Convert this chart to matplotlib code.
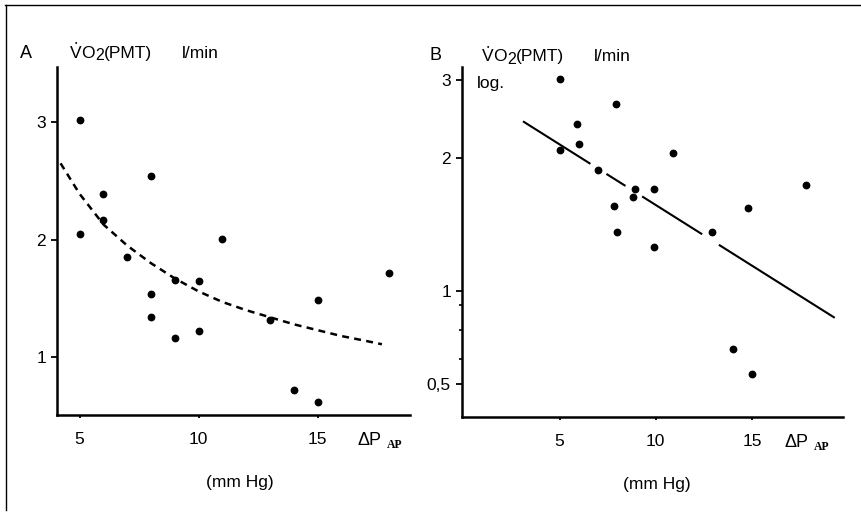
import numpy as np
import matplotlib
matplotlib.use('Agg')
import matplotlib.pyplot as plt
from matplotlib.lines import Line2D

plt.rcParams['font.family'] = ['Liberation Sans', 'DejaVu Sans']
plt.rcParams['lines.scale_dashes'] = False

# ---------------- data ----------------
# Panel A (linear y)
a_x = [5, 5, 6, 6, 7, 8, 8, 8, 9, 9, 10, 10, 11, 13, 14, 15, 15, 18]
a_y = [3.02, 2.05, 2.39, 2.17, 1.85, 2.54, 1.54, 1.34, 1.66, 1.16,
       1.65, 1.22, 2.01, 1.32, 0.72, 1.49, 0.62, 1.72]
# dashed fitted curve in A
fit_x = [4.2, 5, 6, 7, 8, 9, 10, 11, 12, 13, 14, 15, 16, 17, 17.7]
fit_y = [2.65, 2.39, 2.13, 1.95, 1.80, 1.67, 1.56, 1.47, 1.40, 1.34,
         1.28, 1.23, 1.18, 1.14, 1.11]

# Panel B (log y)
b_x = [5, 5, 5.9, 6, 7, 7.85, 7.95, 8, 8.8, 8.9, 9.9, 9.9, 10.9, 12.9,
       14, 14.8, 15, 17.8]
b_y = [3.01, 2.08, 2.39, 2.15, 1.88, 1.56, 2.65, 1.36, 1.63, 1.70, 1.70,
       1.26, 2.05, 1.36, 0.65, 1.54, 0.54, 1.74]
reg_x = [3.1, 19.3]
reg_y = [2.42, 0.82]

x_ticks = [5, 10, 15]
a_yticks = [1, 2, 3]
b_yticks = [0.5, 1, 2, 3]
b_yticklabels = ['0,5', '1', '2', '3']
b_yminor = [0.6, 0.75, 0.9]

# ---------------- figure ----------------
W, H = 862, 512
fig = plt.figure(figsize=(W / 100, H / 100), dpi=100)
renderer = fig.canvas.get_renderer()


def fx(px):
    return px / W


def fy(py):
    return 1 - py / H


# frame lines of the scanned page
fig.add_artist(Line2D([fx(5), 1], [fy(5), fy(5)], transform=fig.transFigure,
                      color='black', lw=1.0))
fig.add_artist(Line2D([fx(6), fx(6)], [fy(5), fy(510)], transform=fig.transFigure,
                      color='black', lw=1.0))

axA = fig.add_axes([fx(57), fy(415), (410 - 57) / W, (415 - 67) / H])
axB = fig.add_axes([fx(462), fy(417), (843 - 462) / W, (417 - 67) / H])

K = 0.694


def fwd(y):
    y = np.asarray(y, dtype=float)
    l = np.log10(np.clip(y, 1e-9, None))
    return np.where(l >= 0, l, K * l)


def inv(t):
    t = np.asarray(t, dtype=float)
    return np.where(t >= 0, 10 ** t, 10 ** (t / K))


for ax in (axA, axB):
    for s in ('top', 'right'):
        ax.spines[s].set_visible(False)
    for s in ('left', 'bottom'):
        ax.spines[s].set_linewidth(1.8)
    ax.tick_params(axis='y', direction='out', length=4, width=1.3,
                   labelsize=12.5, pad=4)
    ax.tick_params(axis='x', direction='out', length=2.5, width=1.3,
                   labelsize=12.5, pad=10)
    ax.set_xticks(x_ticks)
    ax.set_xticklabels([str(v) for v in x_ticks])

# Panel A
axA.plot(fit_x, fit_y, color='black', lw=1.8, ls=(0, (5, 3.8)), zorder=2)
axA.plot(a_x, a_y, 'o', color='black', ms=4.6, zorder=3)
axA.set_xlim(4.05, 18.88)
axA.set_ylim(0.508, 3.47)
axA.set_yticks(a_yticks)
axA.set_yticklabels([str(v) for v in a_yticks])

# Panel B
axB.set_yscale('function', functions=(fwd, inv))
axB.plot(reg_x, reg_y, color='black', lw=1.5,
         ls=(0, (57.4, 13.6, 16.2, 14.2, 51.1, 14.2, 120, 10)), zorder=2)
axB.plot(b_x, b_y, 'o', color='black', ms=4.6, zorder=3)
axB.set_xlim(-0.07, 19.73)
axB.set_ylim(0.39, 3.21)
axB.set_yticks(b_yticks)
axB.set_yticklabels(b_yticklabels)
axB.set_yticks(b_yminor, minor=True)
axB.yaxis.set_minor_formatter(matplotlib.ticker.NullFormatter())
axB.tick_params(axis='y', which='minor', direction='out', length=2.5, width=1.2)


# Titles: V-dot O, lowered 2, (PMT), l/min
def vo2_label(x0, yb):
    fs = 12.5
    tv = fig.text(fx(x0), fy(yb), 'V', fontsize=fs, va='baseline', ha='left')
    bv = tv.get_window_extent(renderer)
    fig.text((bv.x0 + bv.x1) / 2 / W, fy(yb - 12.5), '\u2022', fontsize=5,
             va='baseline', ha='center')
    to = fig.text(bv.x1 / W, fy(yb), 'O', fontsize=fs, va='baseline', ha='left')
    bo = to.get_window_extent(renderer)
    t2 = fig.text(bo.x1 / W, fy(yb + 2.5), '2', fontsize=11.5, va='baseline',
                  ha='left')
    b2 = t2.get_window_extent(renderer)
    fig.text(b2.x1 / W, fy(yb), '(PMT)', fontsize=fs, va='baseline', ha='left')


fig.text(fx(20), fy(58), 'A', fontsize=13, va='baseline', ha='left')
vo2_label(70, 58)
fig.text(fx(182), fy(58), 'l/min', fontsize=12.5, va='baseline', ha='left')

fig.text(fx(430), fy(60), 'B', fontsize=13, va='baseline', ha='left')
vo2_label(482, 61)
fig.text(fx(594), fy(61), 'l/min', fontsize=12.5, va='baseline', ha='left')
fig.text(fx(477), fy(88), 'log.', fontsize=12.5, va='baseline', ha='left')

# x-axis labels
for x0, yb in ((358, 445), (785, 447)):
    fig.text(fx(x0), fy(yb), '\u0394P', fontsize=13, va='baseline', ha='left')
    fig.text(fx(x0 + 29), fy(yb + 3), 'AP', fontsize=8.5, va='baseline', ha='left',
             family='Liberation Serif', weight='bold')

fig.text(fx(240), fy(482), '(mm Hg)', fontsize=12.5, va='center', ha='center')
fig.text(fx(657), fy(485), '(mm Hg)', fontsize=12.5, va='center', ha='center')

fig.savefig('out.png', dpi=100)
